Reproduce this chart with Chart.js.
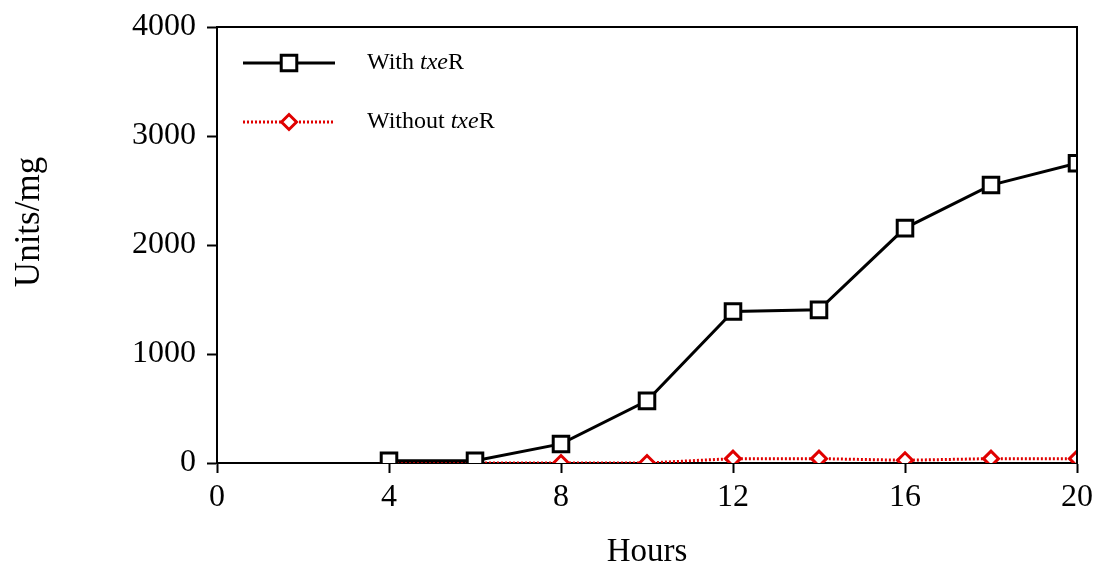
<!DOCTYPE html>
<html>
<head>
<meta charset="utf-8">
<script src="https://cdn.jsdelivr.net/npm/chart.js@4/dist/chart.umd.min.js"></script>
<style>
  html, body { margin: 0; padding: 0; background: #fff; }
  #wrap { width: 1097px; height: 567px; }
</style>
</head>
<body>
<div id="wrap"><canvas id="txeChart" width="1097" height="567"></canvas></div>
<script>
const hours = [4, 6, 8, 10, 12, 14, 16, 18, 20];
const withTxeR = [20, 20, 175, 570, 1390, 1405, 2155, 2550, 2750];
const withoutTxeR = [0, 0, 0, 0, 40, 40, 25, 40, 40];
const xTicks = [0, 4, 8, 12, 16, 20];
const yTicks = [0, 1000, 2000, 3000, 4000];

const serif = "'Liberation Serif', 'Times New Roman', serif";

// frame, y title and legend drawn by hand (legend needs italic "txe")
const framePlugin = {
  id: 'frame',
  afterDatasetsDraw(chart) {
    const { ctx, chartArea: a } = chart;
    ctx.save();
    ctx.strokeStyle = '#000';
    ctx.lineWidth = 2;
    ctx.beginPath();
    ctx.moveTo(a.left, a.top);
    ctx.lineTo(a.right, a.top);
    ctx.lineTo(a.right, a.bottom);
    ctx.stroke();

    // y axis title
    ctx.save();
    ctx.translate(30, 222);
    ctx.rotate(-Math.PI / 2);
    ctx.fillStyle = '#000';
    ctx.font = '35px ' + serif;
    ctx.textAlign = 'center';
    ctx.textBaseline = 'middle';
    ctx.fillText('Units/mg', 0, 0);
    ctx.restore();

    const items = [
      { ds: chart.data.datasets[0], y: 63, label: 'With ' },
      { ds: chart.data.datasets[1], y: 122, label: 'Without ' }
    ];
    items.forEach(it => {
      const x0 = 243, x1 = 335, xm = 289;
      ctx.strokeStyle = it.ds.borderColor;
      ctx.lineWidth = it.ds.borderWidth;
      ctx.setLineDash(it.ds.borderDash || []);
      ctx.beginPath();
      ctx.moveTo(x0, it.y);
      ctx.lineTo(x1, it.y);
      ctx.stroke();
      ctx.setLineDash([]);
      ctx.fillStyle = it.ds.pointBackgroundColor;
      ctx.strokeStyle = it.ds.pointBorderColor;
      ctx.lineWidth = it.ds.pointBorderWidth;
      Chart.helpers.drawPoint(ctx, {
        pointStyle: it.ds.pointStyle,
        radius: it.ds.pointRadius,
        borderWidth: it.ds.pointBorderWidth,
        rotation: 0
      }, xm, it.y);
      ctx.fillStyle = '#000';
      ctx.textBaseline = 'middle';
      ctx.textAlign = 'left';
      let tx = 367;
      ctx.font = '24px ' + serif;
      ctx.fillText(it.label, tx, it.y);
      tx += ctx.measureText(it.label).width;
      ctx.font = 'italic 24px ' + serif;
      ctx.fillText('txe', tx, it.y);
      tx += ctx.measureText('txe').width;
      ctx.font = '24px ' + serif;
      ctx.fillText('R', tx, it.y);
    });
    ctx.restore();
  }
};

const ctx = document.getElementById('txeChart').getContext('2d');

const txeChart = new Chart(ctx, {
  type: 'line',
  data: {
    datasets: [
      {
        label: 'With txeR',
        data: hours.map((h, i) => ({ x: h, y: withTxeR[i] })),
        borderColor: '#000',
        backgroundColor: '#fff',
        borderWidth: 3,
        pointStyle: 'rect',
        pointRadius: 11,
        pointBorderWidth: 3,
        pointBorderColor: '#000',
        pointBackgroundColor: '#fff',
        tension: 0,
        order: 1
      },
      {
        label: 'Without txeR',
        data: hours.map((h, i) => ({ x: h, y: withoutTxeR[i] })),
        borderColor: '#e00000',
        backgroundColor: '#fff',
        borderWidth: 3,
        borderDash: [2, 2],
        pointStyle: 'rectRot',
        pointRadius: 7.5,
        pointBorderWidth: 3,
        pointBorderColor: '#e00000',
        pointBackgroundColor: '#fff',
        tension: 0,
        order: 2
      }
    ]
  },
  options: {
    responsive: false,
    animation: false,
    layout: { padding: { top: 27, right: 20, left: 0, bottom: 0 } },
    plugins: {
      legend: { display: false },
      tooltip: { enabled: false }
    },
    scales: {
      x: {
        type: 'linear',
        min: 0,
        max: 20,
        afterBuildTicks(scale) { scale.ticks = xTicks.map(v => ({ value: v })); },
        afterFit(scale) { scale.height = 104; scale.paddingLeft = 0; scale.paddingRight = 0; },
        grid: { drawOnChartArea: false, drawTicks: true, tickLength: 10, tickWidth: 2, color: '#000' },
        border: { display: true, color: '#000', width: 2 },
        ticks: { color: '#000', font: { family: serif, size: 32 }, padding: 5, maxRotation: 0 },
        title: { display: true, text: 'Hours', color: '#000', font: { family: serif, size: 33 }, padding: { top: 0, bottom: -5 } }
      },
      y: {
        min: 0,
        max: 4000,
        afterBuildTicks(scale) { scale.ticks = yTicks.map(v => ({ value: v })); },
        afterFit(scale) { scale.width = 217; scale.paddingTop = 0; scale.paddingBottom = 0; },
        grid: { drawOnChartArea: false, drawTicks: true, tickLength: 10, tickWidth: 2, color: '#000' },
        border: { display: true, color: '#000', width: 2 },
        ticks: { color: '#000', font: { family: serif, size: 32 }, padding: 11, callback: v => String(v) },
        title: { display: false }
      }
    }
  },
  plugins: [framePlugin]
});
</script>
</body>
</html>
